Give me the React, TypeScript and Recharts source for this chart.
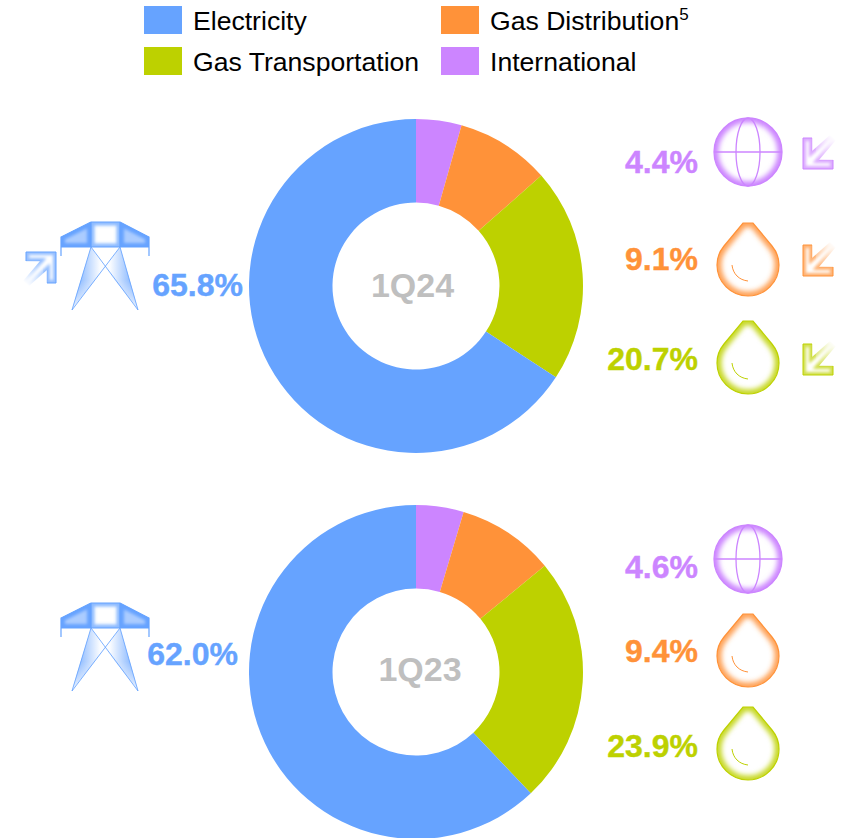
import { PieChart, Pie, Cell } from 'recharts';

const segments = ['International', 'Gas Distribution', 'Gas Transportation', 'Electricity'];
const values1Q24 = [4.4, 9.1, 20.7, 65.8];
const values1Q23 = [4.6, 9.4, 23.9, 62.0];

const BLUE = '#66A3FF';
const ORANGE = '#FF9239';
const GREEN = '#BDD100';
const PURPLE = '#CC85FF';
const colors = [PURPLE, ORANGE, GREEN, BLUE];
const FONT = '"Liberation Sans", Arial, sans-serif';

const toRows = (vals: number[]) => segments.map((name, i) => ({ name, value: vals[i] }));
const pct = (v: number) => `${v.toFixed(1)}%`;

const DROP = 'M-5,-42 L5,-42 L24,-19 C29,-13 31,-7 31,0 A31,31 0 1 1 -31,0 C-31,-7 -29,-13 -24,-19 Z';
const GLOBE = 'M-34,0 A34,34 0 1 1 34,0 A34,34 0 1 1 -34,0 Z';
const ARROW = 'M0,0 L9,0 L9,13 L27,-3 L33,2 L16,22 L30,22 L30,31 L0,31 Z';
const ARM_L = 'M91,222 L61,237 L61,247 L91,247 Z';
const ARM_R = 'M120,222 L149,237 L149,247 L120,247 Z';
const MID = 'M91,222 L120,222 L120,247 L91,247 Z';
const LEG_L = 'M91,247 L72,309 L105,268 Z';
const LEG_R = 'M120,247 L138,309 L105,268 Z';

function Defs() {
  const clips: [string, string][] = [
    ['drop', DROP], ['globe', GLOBE], ['arrow', ARROW], ['armL', ARM_L], ['armR', ARM_R], ['mid', MID],
  ];
  return (
    <defs>
      <filter id="soft" x="-40%" y="-40%" width="180%" height="180%">
        <feGaussianBlur stdDeviation={2.6} />
      </filter>
      <filter id="soft-s" x="-40%" y="-40%" width="180%" height="180%">
        <feGaussianBlur stdDeviation={1.6} />
      </filter>
      {clips.map(([id, d]) => (
        <clipPath id={`clip-${id}`} key={id}>
          <path d={d} />
        </clipPath>
      ))}
      <linearGradient id="fade-tail" gradientUnits="userSpaceOnUse" x1="12" y1="20" x2="31" y2="0">
        <stop offset="0%" stopColor="#fff" stopOpacity={0} />
        <stop offset="100%" stopColor="#fff" stopOpacity={1} />
      </linearGradient>
      <linearGradient id="fade-leg" x1="0" y1="0" x2="0" y2="1">
        <stop offset="25%" stopColor="#fff" stopOpacity={0} />
        <stop offset="100%" stopColor="#fff" stopOpacity={0.95} />
      </linearGradient>
      <linearGradient id="leg-l" x1="1" y1="0" x2="0" y2="0">
        <stop offset="15%" stopColor={BLUE} stopOpacity={0.03} />
        <stop offset="85%" stopColor={BLUE} stopOpacity={0.8} />
      </linearGradient>
      <linearGradient id="leg-r" x1="0" y1="0" x2="1" y2="0">
        <stop offset="15%" stopColor={BLUE} stopOpacity={0.03} />
        <stop offset="85%" stopColor={BLUE} stopOpacity={0.8} />
      </linearGradient>
    </defs>
  );
}

function Glow({ d, id, c, w = 9, small, o = 1 }: { d: string; id: string; c: string; w?: number; small?: boolean; o?: number }) {
  return (
    <g clipPath={`url(#clip-${id})`}>
      <path d={d} fill="none" stroke={c} strokeOpacity={o} strokeWidth={w} filter={small ? 'url(#soft-s)' : 'url(#soft)'} />
    </g>
  );
}

function Globe({ y, c }: { y: number; c: string }) {
  return (
    <g transform={`translate(748,${y})`}>
      <Glow d={GLOBE} id="globe" c={c} />
      <g fill="none" stroke={c} strokeWidth={1.3}>
        <path d={GLOBE} />
        <ellipse rx={12} ry={34} />
        <line x1={-34} x2={34} y1={0} y2={0} />
      </g>
    </g>
  );
}

function Drop({ y, c }: { y: number; c: string }) {
  return (
    <g transform={`translate(748,${y})`}>
      <Glow d={DROP} id="drop" c={c} w={9} o={0.85} />
      <path d={DROP} fill="none" stroke={c} strokeWidth={1.2} />
      <path d="M-16,0 C-15,9 -9,15 0,16" fill="none" stroke={c} strokeWidth={1} />
    </g>
  );
}

// corner of the arrow at bottom-left, turned round for the up-right one
function Arrow({ x, y, c, flip }: { x: number; y: number; c: string; flip?: boolean }) {
  const tf = flip ? `translate(${x + 30},${y + 30}) rotate(180)` : `translate(${x},${y})`;
  return (
    <g transform={tf}>
      <Glow d={ARROW} id="arrow" c={c} w={6} small o={0.7} />
      <path d="M9,0 L0,0 L0,31 L30,31 L30,22" fill="none" stroke={c} strokeWidth={1} />
      <path d="M9,0 L9,13 M16,22 L30,22" fill="none" stroke={c} strokeOpacity={0.4} strokeWidth={1} />
      <path d="M11,-4 H36 V22 H14 Z" fill="url(#fade-tail)" />
    </g>
  );
}

function Tower({ y }: { y: number }) {
  return (
    <g transform={`translate(0,${y})`}>
      <path d={ARM_L} fill={BLUE} fillOpacity={0.55} />
      <path d={ARM_R} fill={BLUE} fillOpacity={0.55} />
      <Glow d={ARM_L} id="armL" c={BLUE} w={8} small />
      <Glow d={ARM_R} id="armR" c={BLUE} w={8} small />
      <Glow d={MID} id="mid" c={BLUE} w={7} small o={0.75} />
      <path d={LEG_L} fill="url(#leg-l)" />
      <path d={LEG_R} fill="url(#leg-r)" />
      <path d="M66,270 H112 V312 H66 Z M100,270 H144 V312 H100 Z" fill="url(#fade-leg)" />
      <g stroke={BLUE} strokeWidth={1.2} fill="none">
        <path d="M91,222 L120,222 L149,237 L149,256 M91,222 L61,237 L61,256" />
        <path d="M61,247 L149,247 M91,222 L91,247 M120,222 L120,247" />
        <path d="M91,247 L138,310 M120,247 L72,310 M91,247 L72,310 M120,247 L138,310" strokeWidth={1} strokeOpacity={0.85} />
      </g>
    </g>
  );
}

function Value({ x, y, v, c }: { x: number; y: number; v: number; c: string }) {
  return (
    <text x={x} y={y} textAnchor="end" fontFamily={FONT} fontWeight={700} fontSize={32} fill={c} stroke={c} strokeWidth={0.4}>
      {pct(v)}
    </text>
  );
}

function LegendItem({ x, y, c, label, sup }: { x: number; y: number; c: string; label: string; sup?: string }) {
  return (
    <g>
      <rect x={x} y={y} width={38} height={28} fill={c} />
      <text x={x + 49} y={y + 24} fontFamily={FONT} fontSize={26.6} fill="#000">
        {label}
        {sup && <tspan fontSize={17} dy={-10}>{sup}</tspan>}
      </text>
    </g>
  );
}

export default function App() {
  return (
    <div style={{ position: 'absolute', left: 0, top: 0, width: 857, height: 838, overflow: 'hidden', background: '#fff' }}>
      <PieChart width={857} height={838} margin={{ top: 0, right: 0, bottom: 0, left: 0 }}>
        <Defs />
        <Pie data={toRows(values1Q24)} dataKey="value" nameKey="name" cx={416} cy={286} innerRadius={83.5} outerRadius={167}
          startAngle={90} endAngle={-270} stroke="none" isAnimationActive={false}>
          {colors.map((c) => <Cell key={c} fill={c} />)}
        </Pie>
        <Pie data={toRows(values1Q23)} dataKey="value" nameKey="name" cx={416} cy={672} innerRadius={83.5} outerRadius={167}
          startAngle={90} endAngle={-270} stroke="none" isAnimationActive={false}>
          {colors.map((c) => <Cell key={c} fill={c} />)}
        </Pie>

        <LegendItem x={144} y={6} c={BLUE} label={segments[3]} />
        <LegendItem x={441} y={6} c={ORANGE} label={segments[1]} sup="5" />
        <LegendItem x={144} y={47} c={GREEN} label={segments[2]} />
        <LegendItem x={441} y={47} c={PURPLE} label={segments[0]} />

        <text x={412.5} y={297} textAnchor="middle" fontFamily={FONT} fontWeight={700} fontSize={34} fill="#BFBFBF">1Q24</text>
        <text x={420} y={681} textAnchor="middle" fontFamily={FONT} fontWeight={700} fontSize={34} fill="#BFBFBF">1Q23</text>

        <Value x={243} y={296} v={values1Q24[3]} c={BLUE} />
        <Value x={698} y={173} v={values1Q24[0]} c={PURPLE} />
        <Value x={698} y={270} v={values1Q24[1]} c={ORANGE} />
        <Value x={698} y={370} v={values1Q24[2]} c={GREEN} />

        <Value x={238} y={665} v={values1Q23[3]} c={BLUE} />
        <Value x={698} y={578} v={values1Q23[0]} c={PURPLE} />
        <Value x={698} y={662} v={values1Q23[1]} c={ORANGE} />
        <Value x={698} y={757} v={values1Q23[2]} c={GREEN} />

        <Tower y={0} />
        <Tower y={381} />
        <Arrow x={26} y={253} c={BLUE} flip />

        <Globe y={152} c={PURPLE} />
        <Drop y={265} c={ORANGE} />
        <Drop y={363} c={GREEN} />
        <Arrow x={803} y={138} c={PURPLE} />
        <Arrow x={803} y={245} c={ORANGE} />
        <Arrow x={803} y={344} c={GREEN} />

        <Globe y={559} c={PURPLE} />
        <Drop y={656} c={ORANGE} />
        <Drop y={749} c={GREEN} />
      </PieChart>
    </div>
  );
}
